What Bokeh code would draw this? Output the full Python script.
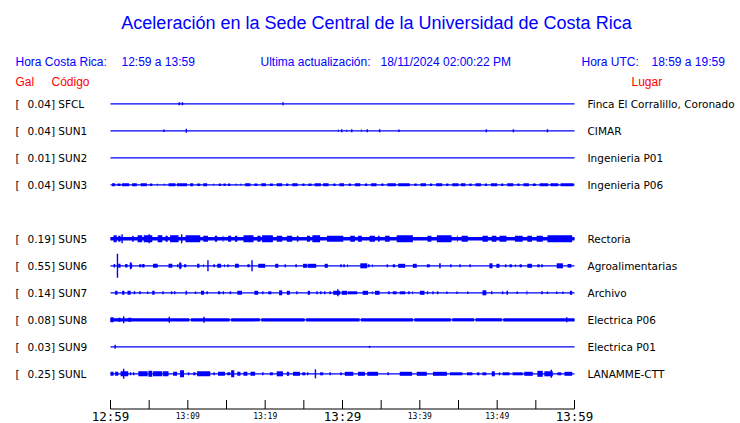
from bokeh.plotting import figure
from bokeh.models import Range1d
from bokeh.embed import file_html
from bokeh.resources import INLINE
from bokeh.core.properties import value

# ---------------- data ----------------
stations = ["SFCL", "SUN1", "SUN2", "SUN3", "SUN5", "SUN6", "SUN7", "SUN8", "SUN9", "SUNL"]
gal = [0.04, 0.04, 0.01, 0.04, 0.19, 0.55, 0.14, 0.08, 0.03, 0.25]
lugar = ["Finca El Corralillo, Coronado", "CIMAR", "Ingenieria P01", "Ingenieria P06",
         "Rectoria", "Agroalimentarias", "Archivo", "Electrica P06", "Electrica P01", "LANAMME-CTT"]

# bursts: (start minute, end minute, half amplitude) ; minutes after 12:59
SFCL_bursts = [(8.8, 9.0, 1.5), (9.2, 9.4, 1.5), (22.3, 22.3, 1.5)]
SUN1_bursts = [(6.8, 7.0, 1.2), (9.8, 9.8, 2.0), (29.4, 29.5, 1.2), (29.9, 29.9, 1.5), (30.5, 30.6, 1.2),
               (31.2, 31.2, 1.5), (32.4, 32.5, 1.2), (33.2, 33.2, 1.5), (34.8, 34.8, 1.5), (37.3, 37.3, 1.2),
               (48.6, 48.6, 1.5), (52.1, 52.1, 1.5), (56.5, 56.5, 1.5)]
SUN2_bursts = []
SUN3_bursts = [(0.2, 0.6, 1.5), (0.9, 1.3, 1.2), (1.5, 2.4, 1.5), (2.8, 3.4, 1.5), (3.9, 4.7, 1.5),
               (5.1, 5.4, 1.2), (6.0, 6.1, 1.2), (6.9, 7.0, 1.2), (7.5, 8.4, 1.5), (8.6, 9.9, 1.5),
               (10.3, 10.7, 1.5), (11.2, 11.6, 1.2), (12.0, 12.5, 1.5), (13.3, 13.4, 1.2), (14.0, 14.3, 1.2),
               (14.6, 14.9, 1.2), (15.2, 15.5, 1.2), (16.2, 16.3, 1.2), (16.8, 16.9, 1.2), (17.4, 18.1, 1.5),
               (18.6, 19.0, 1.2), (19.5, 20.1, 1.5), (20.6, 21.0, 1.2), (21.5, 22.2, 1.5), (22.7, 23.0, 1.2),
               (23.5, 24.2, 1.5), (24.8, 25.1, 1.2), (25.6, 26.0, 1.2), (26.4, 27.2, 1.5), (27.5, 28.2, 1.5),
               (28.8, 29.1, 1.2), (29.6, 30.2, 1.5), (30.8, 31.1, 1.2), (31.6, 32.3, 1.5), (32.9, 33.2, 1.2),
               (33.7, 34.4, 1.5), (35.0, 35.3, 1.2), (35.8, 36.9, 1.5), (37.2, 38.7, 1.5), (39.3, 39.6, 1.2),
               (40.1, 40.8, 1.5), (41.3, 41.6, 1.2), (42.1, 42.9, 1.5), (43.4, 43.7, 1.2), (44.2, 45.0, 1.5),
               (45.3, 45.9, 1.5), (46.4, 46.7, 1.2), (47.2, 47.9, 1.5), (48.4, 48.7, 1.2), (49.2, 50.0, 1.5),
               (50.5, 50.8, 1.2), (51.3, 52.1, 1.5), (52.6, 52.9, 1.2), (53.4, 54.1, 1.5), (54.6, 55.0, 1.2),
               (55.5, 56.6, 1.5), (56.9, 57.9, 1.5), (58.2, 59.9, 1.5)]
SUN5_band = [(0.0, 60.0, 1.8)]
SUN5_bursts = [(0.4, 0.8, 3.5), (1.0, 1.3, 3.0), (1.5, 1.5, 4.5), (2.8, 3.0, 3.0), (3.5, 4.1, 3.5),
               (4.3, 5.4, 3.5), (5.0, 5.0, 4.5), (6.1, 6.7, 3.5), (7.1, 7.4, 3.0), (7.7, 8.8, 3.5),
               (9.2, 9.2, 4.5), (9.7, 11.6, 3.5), (12.0, 12.6, 3.0), (13.5, 13.8, 3.0), (14.5, 14.6, 3.0),
               (15.2, 15.6, 3.0), (16.1, 16.4, 3.0), (17.2, 18.5, 3.5), (19.0, 19.4, 3.0), (19.6, 21.0, 3.5),
               (21.5, 22.2, 3.0), (22.8, 23.5, 3.0), (24.1, 24.3, 3.0), (25.4, 25.8, 3.0), (26.1, 27.1, 3.5),
               (28.0, 30.1, 3.0), (31.0, 31.6, 3.0), (32.0, 32.5, 3.0), (33.5, 34.2, 3.0), (34.6, 34.8, 3.0),
               (35.5, 36.1, 3.0), (37.0, 39.1, 3.5), (41.0, 41.5, 3.0), (42.2, 44.1, 3.5), (44.8, 44.9, 3.0),
               (45.4, 46.2, 3.0), (48.1, 48.8, 3.0), (49.3, 49.9, 3.0), (50.3, 51.2, 3.0), (52.3, 53.3, 3.0),
               (53.9, 54.5, 3.0), (55.1, 55.9, 3.0), (56.5, 59.7, 3.5)]
SUN6_bursts = [(0.4, 0.6, 1.8), (0.9, 0.9, 12.0), (1.0, 1.3, 2.0), (1.9, 2.2, 1.8), (2.5, 2.8, 2.5),
               (2.6, 2.6, 3.5), (3.7, 4.0, 1.5), (4.1, 4.4, 1.8), (5.5, 6.1, 2.0), (7.5, 8.0, 2.0),
               (8.6, 8.8, 1.5), (8.9, 9.2, 2.5), (9.0, 9.0, 3.5), (9.5, 9.8, 1.5), (11.2, 11.5, 2.0),
               (12.0, 12.1, 1.5), (12.6, 12.6, 5.5), (13.3, 13.5, 1.5), (13.8, 14.3, 2.0), (14.7, 14.8, 1.5),
               (15.2, 15.2, 1.5), (16.1, 16.6, 2.0), (17.7, 18.0, 1.5), (18.3, 18.3, 5.5), (19.1, 20.0, 2.0),
               (21.3, 21.7, 2.0), (22.5, 22.7, 1.5), (23.9, 24.1, 1.5), (24.9, 25.4, 2.0), (25.5, 26.6, 2.0),
               (27.7, 28.1, 2.0), (29.7, 29.9, 1.5), (30.1, 30.3, 1.5), (30.6, 30.7, 1.5), (32.3, 33.2, 2.5),
               (33.3, 33.5, 1.5), (33.8, 33.9, 1.5), (35.7, 35.9, 1.5), (36.5, 36.8, 1.5), (37.2, 38.1, 2.0),
               (39.1, 39.6, 2.0), (40.9, 41.3, 1.5), (42.5, 42.7, 2.5), (43.9, 44.1, 1.5), (45.2, 45.2, 1.5),
               (46.5, 46.5, 1.5), (49.0, 49.4, 2.5), (49.9, 50.3, 2.0), (51.0, 51.2, 1.5), (51.6, 51.9, 1.5),
               (52.3, 52.4, 1.5), (52.9, 53.2, 1.5), (53.9, 54.5, 2.0), (55.2, 55.5, 1.5), (55.7, 55.9, 1.5),
               (57.7, 58.5, 2.5), (59.1, 59.6, 1.8)]
SUN7_bursts = [(0.6, 0.9, 2.0), (1.5, 1.8, 2.0), (2.2, 2.6, 2.0), (3.0, 3.2, 1.5), (3.7, 3.9, 1.5),
               (4.8, 4.8, 1.2), (5.4, 5.7, 2.0), (6.8, 6.8, 1.5), (7.9, 7.9, 1.5), (8.3, 8.3, 1.5),
               (9.7, 9.9, 2.0), (11.0, 11.0, 1.2), (11.7, 12.1, 2.0), (12.5, 12.5, 1.5), (13.9, 14.2, 1.5),
               (14.6, 14.6, 1.5), (15.5, 15.5, 1.5), (16.4, 17.0, 2.0), (18.6, 19.1, 2.0), (19.7, 19.7, 1.5),
               (20.4, 20.8, 1.5), (21.8, 22.2, 2.5), (22.8, 23.2, 2.0), (24.1, 24.1, 1.5), (25.5, 25.8, 2.0),
               (26.7, 26.7, 1.5), (27.2, 27.2, 1.5), (27.7, 27.7, 1.5), (28.3, 28.5, 1.5), (28.8, 29.7, 2.0),
               (29.4, 29.4, 3.5), (29.9, 30.6, 2.0), (30.7, 31.9, 1.5), (32.6, 33.3, 2.0), (33.8, 33.9, 1.5),
               (34.2, 34.8, 2.0), (35.9, 36.1, 1.5), (36.5, 37.0, 1.5), (37.4, 38.1, 1.5), (38.5, 38.7, 1.5),
               (39.0, 39.1, 1.5), (40.0, 40.6, 2.0), (41.0, 41.0, 1.5), (41.7, 41.7, 1.5), (42.3, 42.3, 1.5),
               (43.5, 43.5, 1.2), (44.8, 44.8, 1.2), (46.2, 46.2, 1.2), (48.1, 48.6, 2.5), (49.3, 49.3, 1.5),
               (50.7, 50.7, 1.5), (51.2, 51.4, 2.0), (52.6, 52.6, 1.2), (53.8, 53.9, 2.0), (55.7, 55.9, 1.5),
               (56.5, 56.5, 1.2), (57.7, 57.7, 1.2), (58.5, 58.5, 1.2), (59.4, 59.7, 2.0)]
SUN8_band = [(0.0, 10.2, 1.6), (10.4, 15.4, 1.6), (15.6, 19.3, 1.6), (19.5, 25.1, 1.6), (25.3, 32.2, 1.6),
             (32.4, 39.1, 1.6), (39.3, 44.0, 1.6), (44.2, 47.0, 1.6), (47.2, 50.6, 1.6), (50.8, 60.0, 1.6)]
SUN8_bursts = [(0.0, 0.4, 2.5), (1.0, 1.3, 2.0), (1.7, 1.7, 3.5), (2.3, 2.7, 2.0), (7.6, 7.6, 3.0),
               (12.1, 12.1, 3.0), (59.0, 59.0, 2.5)]
SUN9_bursts = [(0.6, 0.6, 2.0), (33.5, 33.5, 1.0)]
SUNL_bursts = [(0.0, 0.4, 2.0), (0.6, 1.0, 2.0), (1.3, 2.3, 2.5), (1.7, 1.7, 5.0), (2.6, 2.6, 1.5),
               (3.0, 3.0, 1.5), (3.6, 4.8, 2.5), (4.9, 5.4, 3.0), (5.5, 6.7, 2.5), (6.8, 7.5, 2.5),
               (8.1, 8.6, 2.0), (9.0, 9.5, 3.5), (10.1, 10.1, 1.5), (10.7, 11.0, 1.5), (11.2, 12.9, 2.5),
               (13.4, 13.4, 1.5), (13.9, 14.8, 2.0), (15.1, 15.5, 1.5), (15.6, 16.0, 3.5), (16.4, 16.8, 2.0),
               (17.2, 17.7, 2.0), (18.1, 18.7, 2.0), (19.7, 19.7, 1.5), (20.6, 21.0, 1.5), (21.5, 22.3, 2.5),
               (22.8, 23.1, 2.0), (23.6, 24.5, 2.0), (24.8, 25.2, 1.5), (25.5, 25.5, 1.5), (26.5, 26.5, 4.5),
               (27.1, 27.5, 1.5), (28.4, 28.4, 1.5), (29.7, 29.9, 1.5), (30.3, 31.4, 2.0), (32.0, 32.9, 2.0),
               (33.2, 34.6, 2.0), (35.9, 35.9, 1.5), (37.4, 39.0, 2.0), (39.6, 40.9, 2.0), (41.7, 43.5, 2.0),
               (43.9, 45.5, 1.5), (46.1, 46.8, 1.5), (47.4, 47.7, 1.5), (48.1, 48.6, 1.5), (49.3, 49.7, 2.5),
               (50.3, 50.3, 1.5), (50.7, 51.6, 1.5), (52.0, 53.3, 1.5), (53.5, 54.6, 2.0), (55.2, 55.9, 3.0),
               (56.1, 57.2, 2.5), (57.0, 57.0, 4.0), (57.8, 58.3, 1.5), (58.7, 59.7, 2.0)]

station_bursts = [SFCL_bursts, SUN1_bursts, SUN2_bursts, SUN3_bursts, SUN5_bursts,
                  SUN6_bursts, SUN7_bursts, SUN8_bursts, SUN9_bursts, SUNL_bursts]
station_bands = [[], [], [], [], SUN5_band, [], [], SUN8_band, [], []]

window_minutes = 60
tick_step = 5
major_labels = ["12:59", "13:29", "13:59"]
major_label_min = [0, 30, 60]
minor_labels = ["13:09", "13:19", "13:39", "13:49"]
minor_label_min = [10, 20, 40, 50]

# ---------------- layout ----------------
W, H = 740, 423
PPM = 464.0 / 60.0            # pixels per minute
ROW0, ROWSTEP = 103.3, 27.0   # page y of first trace, spacing
row_slots = [0, 1, 2, 3, 5, 6, 7, 8, 9, 10]   # SUN4 slot left empty

def X(px):  # page px -> minute (data x)
    return (px - 110.0) / PPM

def Y(py):  # page px -> data y
    return -py

BLUE = "#0000ff"
RED = "#ff0000"

p = figure(width=W, height=H, output_backend="svg", toolbar_location=None,
           x_range=Range1d(X(0), X(W)), y_range=Range1d(Y(H), Y(0)),
           min_border=0, outline_line_color=None)
p.axis.visible = False
p.grid.visible = False
p.background_fill_color = "white"
p.border_fill_color = "white"

# ---- traces ----
for i, name in enumerate(stations):
    yc = Y(ROW0 + ROWSTEP * row_slots[i])
    p.segment(x0=[0], y0=[yc], x1=[window_minutes], y1=[yc], line_color=BLUE, line_width=1.3)
    band = station_bands[i]
    if band:
        p.quad(left=[b[0] for b in band], right=[b[1] for b in band],
               bottom=[yc - b[2] for b in band], top=[yc + b[2] for b in band],
               fill_color=BLUE, line_color=None)
    bursts = station_bursts[i]
    wide = [b for b in bursts if b[1] > b[0]]
    spikes = [b for b in bursts if b[1] <= b[0]]
    if wide:
        p.quad(left=[b[0] for b in wide], right=[b[1] for b in wide],
               bottom=[yc - b[2] for b in wide], top=[yc + b[2] for b in wide],
               fill_color=BLUE, line_color=None)
    if spikes:
        p.segment(x0=[b[0] for b in spikes], y0=[yc - b[2] for b in spikes],
                  x1=[b[0] for b in spikes], y1=[yc + b[2] for b in spikes],
                  line_color=BLUE, line_width=1.4)

# ---- station labels ----
ys = [Y(ROW0 + ROWSTEP * s) for s in row_slots]
p.text(x=[X(15)] * len(stations), y=ys, text=["["] * len(stations),
       text_font=value("DejaVu Sans"), text_font_size="10.5px", text_color="black",
       text_baseline="middle", text_align="left")
p.text(x=[X(27)] * len(stations), y=ys, text=[f"{g:.2f}] {s}" for g, s in zip(gal, stations)],
       text_font=value("DejaVu Sans"), text_font_size="10.5px", text_color="black",
       text_baseline="middle", text_align="left")
p.text(x=[X(587)] * len(stations), y=ys, text=lugar,
       text_font=value("DejaVu Sans"), text_font_size="10.5px", text_color="black",
       text_baseline="middle", text_align="left")

# ---- header ----
def label(px, py, txt, size, color, align="left", font="Liberation Sans"):
    p.text(x=[X(px)], y=[Y(py)], text=[txt], text_font=value(font), text_font_size=size,
           text_color=color, text_baseline="middle", text_align=align)

label(376, 22, "Aceleración en la Sede Central de la Universidad de Costa Rica", "18px", BLUE, "center")
label(15, 61, "Hora Costa Rica:", "12px", BLUE)
label(121, 61, "12:59 a 13:59", "12px", BLUE)
label(260, 61, "Ultima actualización:", "12px", BLUE)
label(380, 61, "18/11/2024 02:00:22 PM", "12px", BLUE)
label(581, 61, "Hora UTC:", "12px", BLUE)
label(651, 61, "18:59 a 19:59", "12px", BLUE)
label(15, 81, "Gal", "12px", RED)
label(51, 81, "Código", "12px", RED)
label(631, 81, "Lugar", "12px", RED)

# ---- time axis ----
AX_Y = 408.5
ticks = list(range(0, window_minutes + 1, tick_step))
p.segment(x0=[0], y0=[Y(AX_Y)], x1=[window_minutes], y1=[Y(AX_Y)], line_color="black", line_width=1)
p.segment(x0=ticks, y0=[Y(AX_Y)] * len(ticks), x1=ticks, y1=[Y(AX_Y - 9)] * len(ticks),
          line_color="black", line_width=1)
p.text(x=major_label_min, y=[Y(416.3)] * len(major_labels), text=major_labels,
       text_font=value("DejaVu Sans Mono"), text_font_size="12.5px", text_color="black",
       text_baseline="middle", text_align="center")
p.text(x=minor_label_min, y=[Y(415.5)] * len(minor_labels), text=minor_labels,
       text_font=value("DejaVu Sans Mono"), text_font_size="8px", text_color="black",
       text_baseline="middle", text_align="center")

open("out.html", "w").write(file_html(p, INLINE))
